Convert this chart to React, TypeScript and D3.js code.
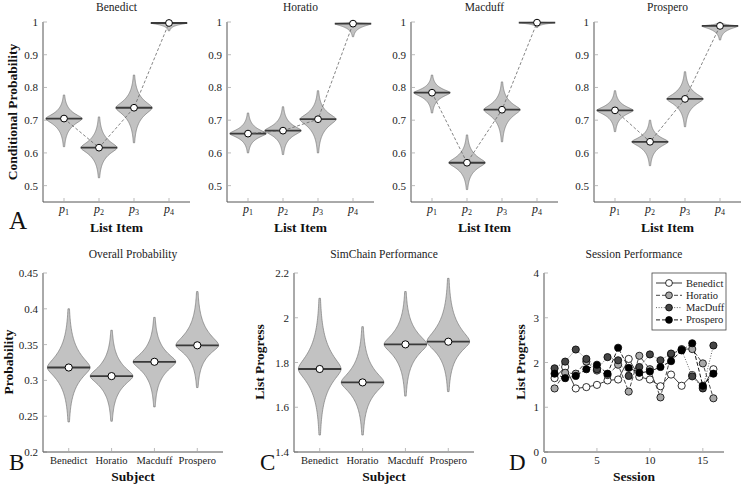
import React from "react";
import * as d3 from "d3";

// Subjects and list items
const subjects = ["Benedict", "Horatio", "Macduff", "Prospero"];
const listItems = [1, 2, 3, 4];

// Conditional probability per list item: mean, lower tail, upper tail
const benedictMean = [0.705, 0.616, 0.738, 0.997];
const benedictLo = [0.619, 0.524, 0.631, 0.973];
const benedictHi = [0.777, 0.71, 0.838, 1.0];
const horatioMean = [0.659, 0.668, 0.703, 0.995];
const horatioLo = [0.6, 0.595, 0.6, 0.955];
const horatioHi = [0.722, 0.741, 0.79, 1.0];
const macduffMean = [0.784, 0.57, 0.732, 0.998];
const macduffLo = [0.722, 0.488, 0.634, 0.983];
const macduffHi = [0.838, 0.655, 0.817, 1.0];
const prosperoMean = [0.73, 0.634, 0.765, 0.988];
const prosperoLo = [0.665, 0.561, 0.68, 0.945];
const prosperoHi = [0.79, 0.7, 0.848, 1.0];

// Overall probability per subject
const overallMean = [0.318, 0.306, 0.326, 0.349];
const overallLo = [0.242, 0.243, 0.263, 0.29];
const overallHi = [0.4, 0.37, 0.388, 0.424];

// SimChain list progress per subject
const simMean = [1.771, 1.711, 1.881, 1.893];
const simLo = [1.476, 1.476, 1.65, 1.67];
const simHi = [2.087, 1.96, 2.117, 2.176];

// Session performance (sessions 1..16)
const sessions = d3.range(1, 17);
const benedictSessions = [1.65, 1.9, 1.42, 1.45, 1.5, 1.6, 1.62, 2.08, 1.68, 1.62, 1.47, 1.73, 1.48, 1.72, 1.45, 1.85];
const horatioSessions = [1.42, 1.77, 1.75, 2.02, 1.82, 1.72, 1.95, 1.35, 2.15, 1.85, 1.22, 2.18, 2.3, 2.3, 1.98, 1.2];
const macduffSessions = [1.87, 2.02, 2.29, 2.08, 1.85, 2.12, 2.05, 1.7, 1.9, 2.18, 2.05, 2.2, 2.28, 1.69, 1.42, 2.38];
const prosperoSessions = [1.75, 1.65, 1.7, 1.85, 1.95, 1.75, 2.33, 1.88, 1.77, 1.8, 1.9, 2.03, 2.27, 2.43, 1.48, 1.75];
const sessionNames = ["Benedict", "Horatio", "MacDuff", "Prospero"];

const FONT = "Liberation Serif, DejaVu Serif, serif";
const AXIS = "#555";
const TICK = "#aaa";

const violinArea = d3
  .area<{ v: number; w: number; cx: number }>()
  .x0((d) => d.cx - d.w)
  .x1((d) => d.cx + d.w)
  .curve(d3.curveBasis);

function violinPath(mean: number, lo: number, hi: number, cx: number, halfW: number, y: d3.ScaleLinear<number, number>) {
  const sUp = Math.max((hi - mean) / 3.6, 1e-4);
  const sDn = Math.max((mean - lo) / 3.6, 1e-4);
  const pts = d3.range(0, 81).map((i) => {
    const v = lo + ((hi - lo) * i) / 80;
    const z = (v - mean) / (v > mean ? sUp : sDn);
    const w = halfW * Math.exp(-Math.sqrt(z * z + 0.08) + Math.sqrt(0.08));
    return { v, w, cx };
  });
  return violinArea.y((d) => y(d.v))(pts) as string;
}

const Violin = ({ mean, lo, hi, cx, halfW, y, r }: any) => (
  <g>
    <path d={violinPath(mean, lo, hi, cx, halfW, y)} fill="#c2c2c2" stroke="#7a7a7a" strokeWidth={0.7} />
    <line x1={cx - halfW} x2={cx + halfW} y1={y(mean)} y2={y(mean)} stroke="#3a3a3a" strokeWidth={1.8} />
    <circle cx={cx} cy={y(mean)} r={r} fill="#fff" stroke="#000" strokeWidth={1} />
  </g>
);

const YAxis = ({ x, y, ticks, fmt, size }: any) => (
  <g style={{ fontFamily: FONT }} fontSize={size}>
    <line x1={x} x2={x} y1={y.range()[0]} y2={y.range()[1]} stroke={AXIS} />
    {ticks.map((t: number) => (
      <g key={t}>
        <line x1={x} x2={x + 4} y1={y(t)} y2={y(t)} stroke={TICK} strokeWidth={0.8} />
        <text x={x - 5} y={y(t) + 4} textAnchor="end" fill="#222">
          {fmt(t)}
        </text>
      </g>
    ))}
  </g>
);

const XAxisLine = ({ x, y, ticks }: any) => (
  <g>
    <line x1={x.range()[0]} x2={x.range()[1]} y1={y} y2={y} stroke={AXIS} />
    {ticks.map((t: number) => (
      <line key={t} x1={x(t)} x2={x(t)} y1={y} y2={y - 4} stroke={TICK} strokeWidth={0.8} />
    ))}
  </g>
);

const topLeft = [43, 227, 411, 594];
const topMeans = [benedictMean, horatioMean, macduffMean, prosperoMean];
const topLos = [benedictLo, horatioLo, macduffLo, prosperoLo];
const topHis = [benedictHi, horatioHi, macduffHi, prosperoHi];
const topY = d3.scaleLinear().domain([0.45, 1]).range([202, 22]);

const TopPanel = ({ i }: { i: number }) => {
  const x = d3.scaleLinear().domain([0.4, 4.6]).range([topLeft[i], topLeft[i] + 147]);
  const halfW = (x(2) - x(1)) * 0.52;
  const line = d3
    .line<number>()
    .x((_, k) => x(listItems[k]))
    .y((d) => topY(d));
  const cx = (topLeft[i] * 2 + 147) / 2;
  return (
    <g>
      <text x={cx} y={11} textAnchor="middle" fontSize={11.5} fill="#222">
        {subjects[i]}
      </text>
      <YAxis x={topLeft[i]} y={topY} ticks={[0.5, 0.6, 0.7, 0.8, 0.9, 1]} fmt={d3.format("~g")} size={11} />
      <XAxisLine x={x} y={202} ticks={listItems} />
      {listItems.map((p, k) => (
        <path
          key={"v" + p}
          d={violinPath(topMeans[i][k], topLos[i][k], topHis[i][k], x(p), halfW, topY)}
          fill="#c2c2c2"
          stroke="#7a7a7a"
          strokeWidth={0.7}
        />
      ))}
      {listItems.map((p, k) => (
        <line
          key={"m" + p}
          x1={x(p) - halfW}
          x2={x(p) + halfW}
          y1={topY(topMeans[i][k])}
          y2={topY(topMeans[i][k])}
          stroke="#3a3a3a"
          strokeWidth={1.8}
        />
      ))}
      <path d={line(topMeans[i]) as string} fill="none" stroke="#666" strokeWidth={0.8} strokeDasharray="3,2" />
      {listItems.map((p, k) => (
        <circle key={"c" + p} cx={x(p)} cy={topY(topMeans[i][k])} r={3.4} fill="#fff" stroke="#000" />
      ))}
      {listItems.map((p) => (
        <text key={"t" + p} x={x(p)} y={213} textAnchor="middle" fontSize={12} fill="#222">
          <tspan fontStyle="italic">p</tspan>
          <tspan fontSize={8} dy={2}>
            {p}
          </tspan>
        </text>
      ))}
      <text x={cx} y={232} textAnchor="middle" fontWeight="bold" fontSize={13.5} fill="#111">
        List Item
      </text>
    </g>
  );
};

const SubjectPanel = ({ x0, title, mean, lo, hi, domain, ticks, fmt, ylabel, letter }: any) => {
  const x = d3.scaleLinear().domain([0.4, 4.6]).range([x0, x0 + 180]);
  const y = d3.scaleLinear().domain(domain).range([452, 273]);
  const halfW = (x(2) - x(1)) * 0.5;
  const cx = x0 + 90;
  return (
    <g>
      <text x={cx} y={258} textAnchor="middle" fontSize={11.5} fill="#222">
        {title}
      </text>
      <YAxis x={x0} y={y} ticks={ticks} fmt={fmt} size={11} />
      <XAxisLine x={x} y={452} ticks={[1, 2, 3, 4]} />
      {subjects.map((s, k) => (
        <Violin key={s} mean={mean[k]} lo={lo[k]} hi={hi[k]} cx={x(k + 1)} halfW={halfW} y={y} r={3.6} />
      ))}
      {subjects.map((s, k) => (
        <text key={"t" + s} x={x(k + 1)} y={464} textAnchor="middle" fontSize={10.5} fill="#222">
          {s}
        </text>
      ))}
      <text x={cx} y={481} textAnchor="middle" fontWeight="bold" fontSize={13.5} fill="#111">
        Subject
      </text>
      <text
        transform={`translate(${x0 - 30},${362}) rotate(-90)`}
        textAnchor="middle"
        fontWeight="bold"
        fontSize={13.5}
        fill="#111"
      >
        {ylabel}
      </text>
      <text x={x0 - 34} y={470} fontSize={23} fill="#111">
        {letter}
      </text>
    </g>
  );
};

const sessionSeries = [benedictSessions, horatioSessions, macduffSessions, prosperoSessions];
const sessionFill = ["#ffffff", "#a8a8a8", "#454545", "#000000"];
const sessionDash = ["none", "4,2", "1,1.6", "4,2"];
const sessionStroke = ["#222", "#333", "#555", "#000"];

const SessionPanel = () => {
  const x0 = 544;
  const x = d3.scaleLinear().domain([0, 17]).range([x0, x0 + 180]);
  const y = d3.scaleLinear().domain([0, 4]).range([452, 273]);
  const line = d3
    .line<number>()
    .x((_, k) => x(sessions[k]))
    .y((d) => y(d));
  return (
    <g>
      <text x={x0 + 90} y={258} textAnchor="middle" fontSize={11.5} fill="#222">
        Session Performance
      </text>
      <YAxis x={x0} y={y} ticks={[0, 1, 2, 3, 4]} fmt={d3.format("d")} size={11} />
      <XAxisLine x={x} y={452} ticks={[0, 5, 10, 15]} />
      {[0, 5, 10, 15].map((t) => (
        <text key={t} x={x(t)} y={464} textAnchor="middle" fontSize={11} fill="#222">
          {t}
        </text>
      ))}
      {sessionSeries.map((s, i) => (
        <path
          key={"l" + i}
          d={line(s) as string}
          fill="none"
          stroke={sessionStroke[i]}
          strokeWidth={0.9}
          strokeDasharray={sessionDash[i]}
        />
      ))}
      {sessionSeries.map((s, i) =>
        s.map((v, k) => (
          <circle key={i + "-" + k} cx={x(sessions[k])} cy={y(v)} r={3.6} fill={sessionFill[i]} stroke="#000" strokeWidth={0.8} />
        ))
      )}
      <rect x={652} y={273} width={74} height={57} fill="#fff" stroke="#444" strokeWidth={0.8} />
      {sessionNames.map((n, i) => {
        const ly = 283 + i * 12.3;
        return (
          <g key={n}>
            <line x1={656} x2={682} y1={ly} y2={ly} stroke={sessionStroke[i]} strokeDasharray={sessionDash[i]} strokeWidth={0.9} />
            <circle cx={669} cy={ly} r={3.4} fill={sessionFill[i]} stroke="#000" strokeWidth={0.8} />
            <text x={686} y={ly + 3.5} fontSize={10.5} fill="#222">
              {n}
            </text>
          </g>
        );
      })}
      <text x={x0 + 90} y={481} textAnchor="middle" fontWeight="bold" fontSize={13.5} fill="#111">
        Session
      </text>
      <text
        transform={`translate(${x0 - 19},${362}) rotate(-90)`}
        textAnchor="middle"
        fontWeight="bold"
        fontSize={13.5}
        fill="#111"
      >
        List Progress
      </text>
      <text x={x0 - 35} y={470} fontSize={23} fill="#111">
        D
      </text>
    </g>
  );
};

export default function App() {
  return (
    <svg
      width={742}
      height={484}
      fontFamily={FONT}
      style={{ position: "absolute", left: 0, top: 0, background: "#fff", fontFamily: FONT }}
    >
      {subjects.map((s, i) => (
        <TopPanel key={s} i={i} />
      ))}
      <text transform="translate(17,112) rotate(-90)" textAnchor="middle" fontWeight="bold" fontSize={13.5} fill="#111">
        Conditional Probability
      </text>
      <text x={9} y={229} fontSize={25} fill="#111">
        A
      </text>
      <SubjectPanel
        x0={43}
        title="Overall Probability"
        mean={overallMean}
        lo={overallLo}
        hi={overallHi}
        domain={[0.2, 0.45]}
        ticks={[0.2, 0.25, 0.3, 0.35, 0.4, 0.45]}
        fmt={d3.format("~g")}
        ylabel="Probability"
        letter="B"
      />
      <SubjectPanel
        x0={294}
        title="SimChain Performance"
        mean={simMean}
        lo={simLo}
        hi={simHi}
        domain={[1.4, 2.2]}
        ticks={[1.4, 1.6, 1.8, 2, 2.2]}
        fmt={d3.format("~g")}
        ylabel="List Progress"
        letter="C"
      />
      <SessionPanel />
    </svg>
  );
}
